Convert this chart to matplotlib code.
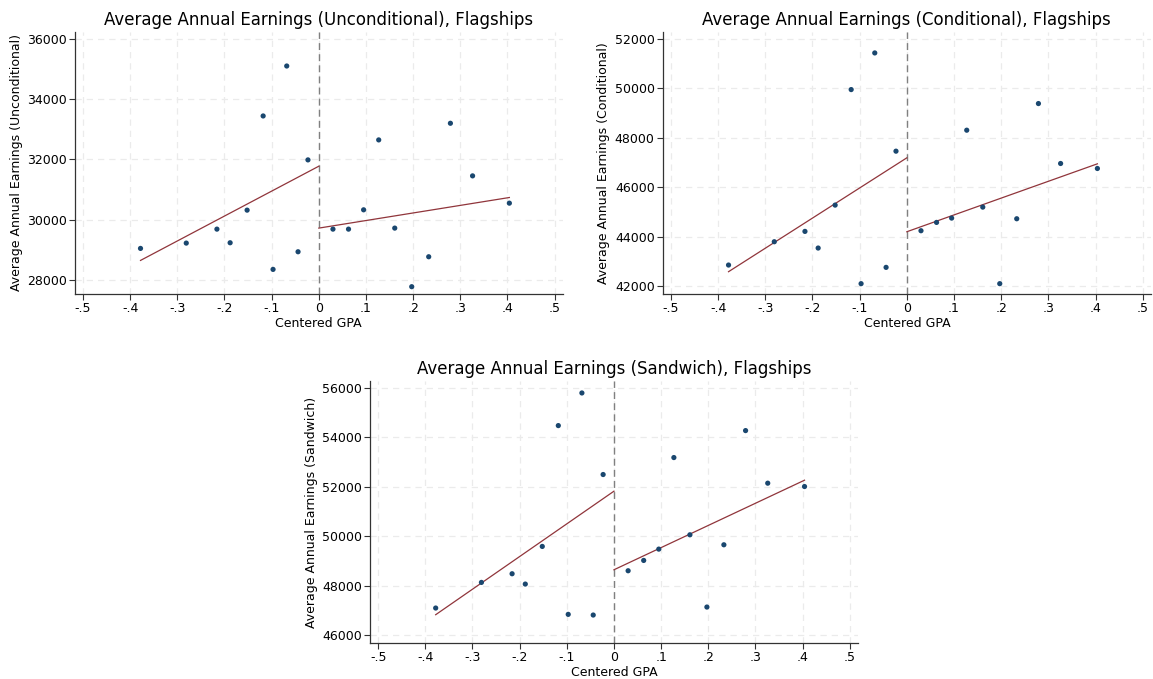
import matplotlib
matplotlib.use("Agg")
import matplotlib.pyplot as plt

# centered GPA bins (same for all three panels)
gpa = [-0.378, -0.281, -0.216, -0.188, -0.152, -0.118, -0.097, -0.068, -0.044, -0.023,
       0.030, 0.063, 0.095, 0.127, 0.161, 0.197, 0.233, 0.279, 0.326, 0.404]

earn_uncond = [29040, 29217, 29681, 29228, 30312, 33442, 28343, 35102, 28929, 31982,
               29681, 29681, 30323, 32646, 29715, 27768, 28763, 33199, 31451, 30544]
earn_cond = [42861, 43803, 44221, 43548, 45284, 49954, 42108, 51435, 42767, 47464,
             44248, 44584, 44759, 48312, 45203, 42108, 44732, 49389, 46966, 46764]
earn_sand = [47104, 48140, 48490, 48073, 49594, 54479, 46848, 55798, 46821, 52501,
             48611, 49028, 49486, 53187, 50065, 47144, 49661, 54277, 52151, 52016]

# fitted lines: (x start, x end) and (y start, y end) on each side of the cutoff
fit_x_left = [-0.378, 0.0]
fit_x_right = [0.0, 0.404]
fit_uncond = ([28641, 31772], [29715, 30732])
fit_cond = ([42592, 47195], [44207, 46953])
fit_sand = ([46834, 51828], [48651, 52272])

xticks = [-0.5, -0.4, -0.3, -0.2, -0.1, 0, 0.1, 0.2, 0.3, 0.4, 0.5]
xticklabels = ["-.5", "-.4", "-.3", "-.2", "-.1", "0", ".1", ".2", ".3", ".4", ".5"]

panels = [
    ("Average Annual Earnings (Unconditional), Flagships", "Average Annual Earnings (Unconditional)",
     earn_uncond, fit_uncond, [28000, 30000, 32000, 34000, 36000], (27525, 36235)),
    ("Average Annual Earnings (Conditional), Flagships", "Average Annual Earnings (Conditional)",
     earn_cond, fit_cond, [42000, 44000, 46000, 48000, 50000, 52000], (41690, 52285)),
    ("Average Annual Earnings (Sandwich), Flagships", "Average Annual Earnings (Sandwich)",
     earn_sand, fit_sand, [46000, 48000, 50000, 52000, 54000, 56000], (45690, 56285)),
]

positions = [
    [0.065, 0.567, 0.423, 0.386],
    [0.575, 0.567, 0.423, 0.386],
    [0.321, 0.053, 0.423, 0.386],
]

navy = "#1a476f"
maroon = "#90353b"

fig = plt.figure(figsize=(11.53, 6.79), dpi=100)

for (title, ylabel, y, fit, yticks, ylim), pos in zip(panels, positions):
    ax = fig.add_axes(pos)
    ax.grid(True, color="#ebebeb", linestyle=(0, (5, 4)), linewidth=0.9)
    ax.set_axisbelow(True)
    ax.axvline(0, color="#808080", linestyle=(0, (5, 3)), linewidth=1.0, zorder=2)
    ax.plot(fit_x_left, fit[0], color=maroon, linewidth=0.9, zorder=3)
    ax.plot(fit_x_right, fit[1], color=maroon, linewidth=0.9, zorder=3)
    ax.scatter(gpa, y, s=14, color=navy, edgecolors="none", zorder=4)
    ax.set_xlim(-0.517, 0.517)
    ax.set_ylim(*ylim)
    ax.set_xticks(xticks)
    ax.set_xticklabels(xticklabels)
    ax.set_yticks(yticks)
    ax.set_yticklabels([str(v) for v in yticks])
    ax.tick_params(labelsize=9, length=4, width=0.8, color="#333333", pad=2)
    for s in ["top", "right"]:
        ax.spines[s].set_visible(False)
    for s in ["left", "bottom"]:
        ax.spines[s].set_color("#333333")
        ax.spines[s].set_linewidth(0.9)
    ax.set_title(title, fontsize=12, pad=5)
    ax.set_xlabel("Centered GPA", fontsize=9, labelpad=1)
    ax.set_ylabel(ylabel, fontsize=9, labelpad=3)

fig.savefig("out.png", dpi=100)
